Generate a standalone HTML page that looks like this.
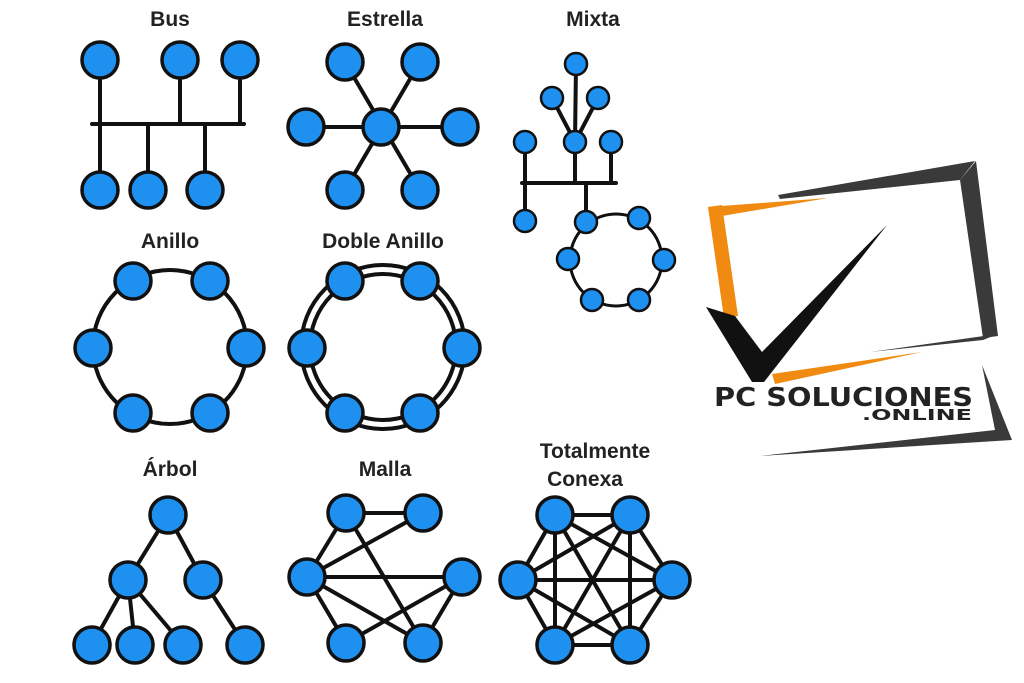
<!DOCTYPE html>
<html><head><meta charset="utf-8"><style>
html,body{margin:0;padding:0;background:#fff;}
svg{display:block}
text{font-family:"Liberation Sans",sans-serif;font-weight:bold;fill:#222;}
</style></head><body>
<svg width="1024" height="683" viewBox="0 0 1024 683" xmlns="http://www.w3.org/2000/svg">
<rect width="1024" height="683" fill="#fff"/>
<g stroke="#111" stroke-width="4" fill="none" stroke-linecap="round">
<line x1="92" y1="124" x2="244" y2="124"/>
<line x1="100" y1="60" x2="100" y2="190"/><line x1="180" y1="60" x2="180" y2="124"/><line x1="240" y1="60" x2="240" y2="124"/>
<line x1="148" y1="124" x2="148" y2="190"/><line x1="205" y1="124" x2="205" y2="190"/>
<line x1="306" y1="127" x2="460" y2="127"/><line x1="345" y1="62" x2="420" y2="190"/><line x1="420" y1="62" x2="345" y2="190"/>
<line x1="576" y1="64" x2="575" y2="142"/><line x1="552" y1="98" x2="575" y2="142"/><line x1="598" y1="98" x2="575" y2="142"/>
<line x1="522" y1="183" x2="616" y2="183"/><line x1="525" y1="142" x2="525" y2="221"/><line x1="575" y1="142" x2="575" y2="183"/><line x1="611" y1="142" x2="611" y2="183"/>
<line x1="586" y1="183" x2="586" y2="222"/>
<circle cx="616" cy="260" r="46" stroke-width="3"/>
<circle cx="170" cy="347" r="77"/>
<circle cx="383" cy="347" r="82"/><circle cx="383" cy="347" r="73"/>
<line x1="168" y1="515" x2="128" y2="580"/><line x1="168" y1="515" x2="203" y2="580"/>
<line x1="128" y1="580" x2="92" y2="645"/><line x1="128" y1="580" x2="135" y2="645"/><line x1="128" y1="580" x2="183" y2="645"/><line x1="203" y1="580" x2="245" y2="645"/>
<line x1="346" y1="513" x2="423" y2="513"/><line x1="346" y1="513" x2="307" y2="577"/><line x1="423" y1="513" x2="307" y2="577"/><line x1="346" y1="513" x2="423" y2="643"/>
<line x1="307" y1="577" x2="462" y2="577"/><line x1="307" y1="577" x2="346" y2="643"/><line x1="307" y1="577" x2="423" y2="643"/><line x1="462" y1="577" x2="346" y2="643"/><line x1="462" y1="577" x2="423" y2="643"/>
<polyline points="555,515 630,515 672,580 630,645 555,645 518,580 555,515"/>
<line x1="555" y1="515" x2="672" y2="580"/><line x1="555" y1="515" x2="630" y2="645"/><line x1="555" y1="515" x2="555" y2="645"/>
<line x1="630" y1="515" x2="518" y2="580"/><line x1="630" y1="515" x2="555" y2="645"/><line x1="630" y1="515" x2="630" y2="645"/>
<line x1="518" y1="580" x2="672" y2="580"/><line x1="518" y1="580" x2="630" y2="645"/><line x1="672" y1="580" x2="555" y2="645"/>
</g>
<g fill="#1e90f0" stroke="#111" stroke-width="3.5">
<circle cx="100" cy="60" r="18"/><circle cx="180" cy="60" r="18"/><circle cx="240" cy="60" r="18"/>
<circle cx="100" cy="190" r="18"/><circle cx="148" cy="190" r="18"/><circle cx="205" cy="190" r="18"/>
<circle cx="381" cy="127" r="18"/><circle cx="306" cy="127" r="18"/><circle cx="460" cy="127" r="18"/>
<circle cx="345" cy="62" r="18"/><circle cx="420" cy="62" r="18"/><circle cx="345" cy="190" r="18"/><circle cx="420" cy="190" r="18"/>
<circle cx="133" cy="281" r="18"/><circle cx="210" cy="281" r="18"/><circle cx="93" cy="348" r="18"/><circle cx="246" cy="348" r="18"/><circle cx="133" cy="413" r="18"/><circle cx="210" cy="413" r="18"/>
<circle cx="345" cy="281" r="18"/><circle cx="420" cy="281" r="18"/><circle cx="307" cy="348" r="18"/><circle cx="462" cy="348" r="18"/><circle cx="345" cy="413" r="18"/><circle cx="420" cy="413" r="18"/>
<circle cx="168" cy="515" r="18"/><circle cx="128" cy="580" r="18"/><circle cx="203" cy="580" r="18"/><circle cx="92" cy="645" r="18"/><circle cx="135" cy="645" r="18"/><circle cx="183" cy="645" r="18"/><circle cx="245" cy="645" r="18"/>
<circle cx="346" cy="513" r="18"/><circle cx="423" cy="513" r="18"/><circle cx="307" cy="577" r="18"/><circle cx="462" cy="577" r="18"/><circle cx="346" cy="643" r="18"/><circle cx="423" cy="643" r="18"/>
<circle cx="555" cy="515" r="18"/><circle cx="630" cy="515" r="18"/><circle cx="518" cy="580" r="18"/><circle cx="672" cy="580" r="18"/><circle cx="555" cy="645" r="18"/><circle cx="630" cy="645" r="18"/>
</g>
<g fill="#1e90f0" stroke="#111" stroke-width="2.5">
<circle cx="576" cy="64" r="11"/><circle cx="552" cy="98" r="11"/><circle cx="598" cy="98" r="11"/>
<circle cx="525" cy="142" r="11"/><circle cx="575" cy="142" r="11"/><circle cx="611" cy="142" r="11"/>
<circle cx="525" cy="221" r="11"/><circle cx="586" cy="222" r="11"/><circle cx="639" cy="218" r="11"/><circle cx="664" cy="260" r="11"/><circle cx="639" cy="300" r="11"/><circle cx="592" cy="300" r="11"/><circle cx="568" cy="259" r="11"/>
</g>
<g font-size="21" text-anchor="middle">
<text x="170" y="26">Bus</text><text x="385" y="26">Estrella</text><text x="593" y="26">Mixta</text>
<text x="170" y="248">Anillo</text><text x="383" y="248">Doble Anillo</text>
<text x="170" y="476">Árbol</text><text x="385" y="476">Malla</text>
<text x="595" y="458">Totalmente</text><text x="585" y="486">Conexa</text>
</g>
<polygon points="778,195 975,161 960,180 780,199" fill="#3a3a3a"/>
<polygon points="960,180 976,161 998,336 983,338" fill="#3a3a3a"/>
<polygon points="870,352 998,334 983,340" fill="#3a3a3a"/>
<polygon points="982,365 1012,440 760,456 995,430" fill="#3a3a3a"/>
<polygon points="708,207 828,198 722,216" fill="#f08a10"/>
<polygon points="708,207 722,205 738,316 724,318" fill="#f08a10"/>
<polygon points="772,374 922,352 775,384" fill="#f08a10"/>
<polygon points="706,307 735,316 762,352 887,225 764,382 752,382" fill="#111"/>
<text x="714" y="406" font-size="26" fill="#111" style="font-family:'DejaVu Sans',sans-serif;font-weight:bold" textLength="259" lengthAdjust="spacingAndGlyphs">PC SOLUCIONES</text>
<text x="862" y="420" font-size="15" fill="#111" style="font-family:'DejaVu Sans',sans-serif;font-weight:bold" textLength="110" lengthAdjust="spacingAndGlyphs">.ONLINE</text>
</svg>
</body></html>
